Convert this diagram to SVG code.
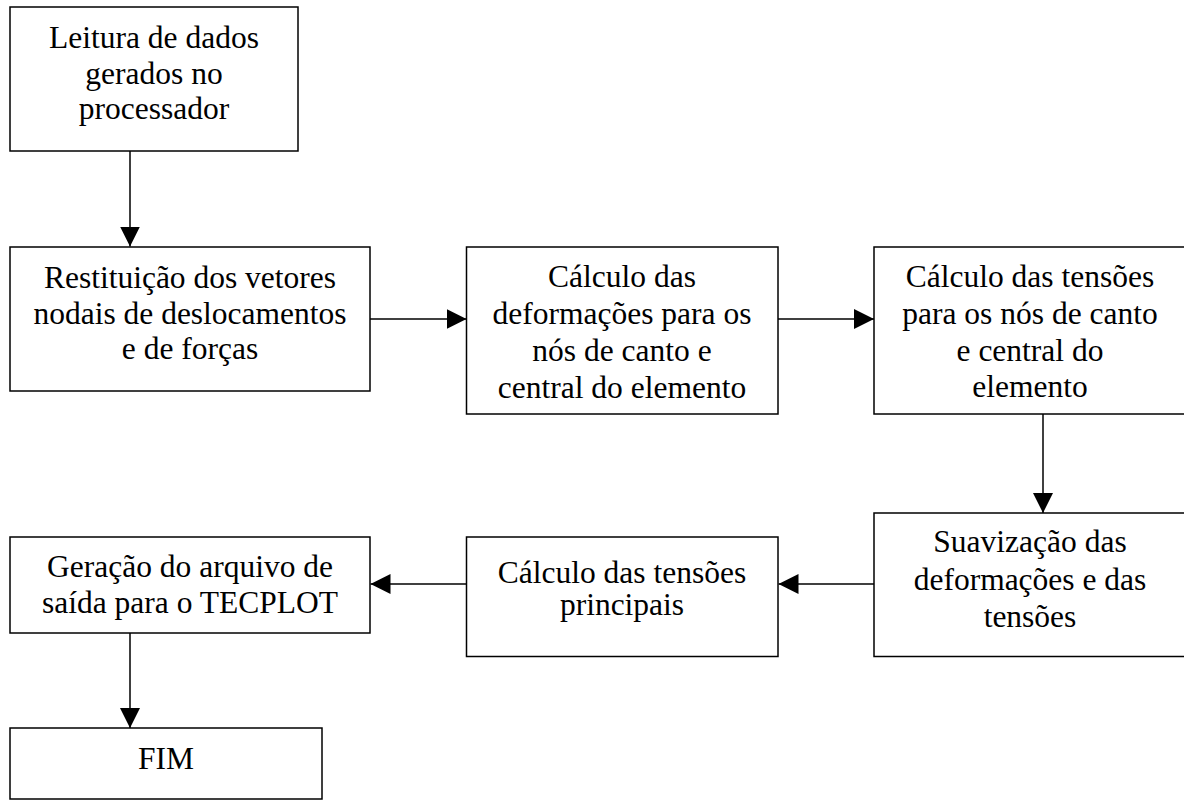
<svg xmlns="http://www.w3.org/2000/svg" width="1184" height="800" viewBox="0 0 1184 800">
<defs>
<style>
.box{fill:#fff;stroke:#000;stroke-width:1.5}
.t{font-family:"Liberation Serif","Times New Roman",serif;font-size:31.5px;fill:#000;text-anchor:middle}
.c{stroke:#000;stroke-width:1.5;fill:none}
</style>
<marker id="ah" viewBox="0 0 20 20" refX="20" refY="10" markerWidth="20" markerHeight="20" markerUnits="userSpaceOnUse" orient="auto">
<path d="M0,0 L20,10 L0,20 Z" fill="#000"/>
</marker>
</defs>
<rect width="1184" height="800" fill="#fff"/>
<g id="connectors">
<line class="c" x1="130" y1="151" x2="130" y2="246.5" marker-end="url(#ah)"/>
<line class="c" x1="370" y1="319" x2="466.5" y2="319" marker-end="url(#ah)"/>
<line class="c" x1="778" y1="319" x2="874" y2="319" marker-end="url(#ah)"/>
<line class="c" x1="1043" y1="414" x2="1043" y2="513" marker-end="url(#ah)"/>
<line class="c" x1="874" y1="584" x2="778.5" y2="584" marker-end="url(#ah)"/>
<line class="c" x1="466.5" y1="584" x2="370.5" y2="584" marker-end="url(#ah)"/>
<line class="c" x1="130" y1="633" x2="130" y2="728" marker-end="url(#ah)"/>
</g>
<g id="n1">
<rect class="box" x="10" y="7" width="288" height="144"/>
<text class="t" x="154" y="48">Leitura de dados</text>
<text class="t" x="154" y="84">gerados no</text>
<text class="t" x="154" y="119">processador</text>
</g>
<g id="n2">
<rect class="box" x="10" y="247" width="360" height="144"/>
<text class="t" x="190" y="288">Restituição dos vetores</text>
<text class="t" x="190" y="324">nodais de deslocamentos</text>
<text class="t" x="190" y="359">e de forças</text>
</g>
<g id="n3">
<rect class="box" x="466.5" y="247" width="311.5" height="167"/>
<text class="t" x="622" y="287">Cálculo das</text>
<text class="t" x="622" y="324">deformações para os</text>
<text class="t" x="622" y="361">nós de canto e</text>
<text class="t" x="622" y="398">central do elemento</text>
</g>
<g id="n4">
<rect class="box" x="874" y="247" width="312" height="167"/>
<text class="t" x="1030" y="287">Cálculo das tensões</text>
<text class="t" x="1030" y="324">para os nós de canto</text>
<text class="t" x="1030" y="361">e central do</text>
<text class="t" x="1030" y="397">elemento</text>
</g>
<g id="n5">
<rect class="box" x="874" y="513" width="312" height="143.5"/>
<text class="t" x="1030" y="552">Suavização das</text>
<text class="t" x="1030" y="590">deformações e das</text>
<text class="t" x="1030" y="627">tensões</text>
</g>
<g id="n6">
<rect class="box" x="466.5" y="537" width="311.5" height="119.5"/>
<text class="t" x="622" y="583">Cálculo das tensões</text>
<text class="t" x="622" y="615">principais</text>
</g>
<g id="n7">
<rect class="box" x="10" y="537" width="360" height="96"/>
<text class="t" x="190" y="577">Geração do arquivo de</text>
<text class="t" x="190" y="613">saída para o TECPLOT</text>
</g>
<g id="n8">
<rect class="box" x="10" y="728" width="312" height="71"/>
<text class="t" x="166" y="769">FIM</text>
</g>
</svg>
